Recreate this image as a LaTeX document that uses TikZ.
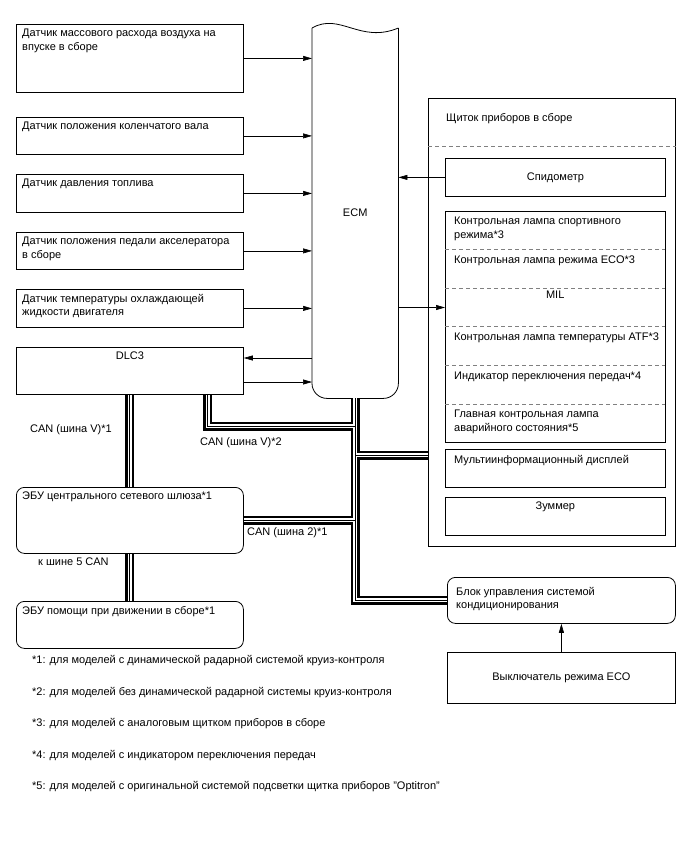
\documentclass[tikz,border=0pt]{standalone}
\usepackage{fontspec}
\setmainfont{Liberation Sans}
\usetikzlibrary{arrows.meta,positioning,calc}

\begin{document}
\begin{tikzpicture}[x=1pt,y=-1pt,font=\fontsize{11}{13.5}\selectfont,
 box/.style={draw,line width=0.8pt,anchor=north west,inner sep=0pt,minimum width=227pt},
 rbox/.style={box,rounded corners=8pt},
 lbl/.style={anchor=north west,inner sep=0pt,align=left},
 tl/.style={label={[lbl,xshift=6pt,yshift=-5pt]north west:#1}},
 ltl/.style={label={[lbl,xshift=9pt,yshift=-6pt]north west:#1}},
 tc/.style={label={[anchor=north,inner sep=0pt,yshift=-5pt]north:#1}},
 lamp/.style={minimum width=220pt,minimum height=38.2pt,inner sep=0pt},
 note/.style={anchor=west,inner sep=0pt},
 arr/.style={-{Triangle[length=9pt,width=5pt]},line width=0.6pt},
 sep/.style={line width=0.8pt,gray,dash pattern=on 4pt off 3pt}]
\path[use as bounding box,fill=white] (0,0) rectangle (688,852);

% sensors and left-hand units
\node[box,minimum height=68pt,tl={Датчик массового расхода воздуха на\\впуске в сборе}] (maf) at (16,24) {};
\node[box,minimum height=37pt,tl={Датчик положения коленчатого вала}] (ckp) at (16,117) {};
\node[box,minimum height=38pt,tl={Датчик давления топлива}] (fps) at (16,174) {};
\node[box,minimum height=37pt,tl={Датчик положения педали акселератора\\в сборе}] (app) at (16,232) {};
\node[box,minimum height=38pt,tl={Датчик температуры охлаждающей\\жидкости двигателя}] (ect) at (16,289) {};
\node[box,minimum height=47pt,tc=DLC3] (dlc) at (16,347) {};
\node[rbox,minimum height=66pt,tl={ЭБУ центрального сетевого шлюза*1}] (cgw) at (16,487) {};
\node[rbox,minimum height=47pt,tl={ЭБУ помощи при движении в сборе*1}] (das) at (16,601) {};

% ECM
\node[minimum width=86pt,minimum height=370pt,anchor=north west,inner sep=0pt] (ecm) at (312,28) {ECM};
\draw[line width=0.8pt] (ecm.north west) .. controls (340,12) and (360,44) .. (ecm.north east);
\draw[line width=0.8pt,rounded corners=15pt] (ecm.north east) -- (ecm.south east) -- (ecm.south west) -- (ecm.north west);

% combination meter
\node[box,minimum width=247pt,minimum height=448pt,label={[lbl,xshift=18pt,yshift=-15pt]north west:Щиток приборов в сборе}] (ipc) at (428,98) {};
\draw[sep] (ipc.west |- 0,146) -- (ipc.east |- 0,146);
\node[box,minimum width=220pt,minimum height=38pt] (spd) at (445,158) {Спидометр};
\node[lamp,anchor=north west,ltl={Контрольная лампа спортивного\\режима*3}] (spt) at (445,211) {};
\node[lamp,below=0pt of spt,ltl={Контрольная лампа режима ECO*3}] (eco) {};
\node[lamp,below=0pt of eco,label={[anchor=north,inner sep=0pt,yshift=-3pt]north:MIL}] (mil) {};
\node[lamp,below=0pt of mil,ltl={Контрольная лампа температуры ATF*3}] (atf) {};
\node[lamp,below=0pt of atf,ltl={Индикатор переключения передач*4}] (gsi) {};
\node[lamp,below=0pt of gsi,ltl={Главная контрольная лампа\\аварийного состояния*5}] (mcl) {};
\draw[line width=0.8pt] (spt.north west) rectangle (mcl.south east);
\foreach \n in {spt,eco,mil,atf,gsi} \draw[sep] (\n.south west) -- (\n.south east);
\node[box,minimum width=220pt,minimum height=38pt,ltl={Мультиинформационный дисплей}] (mid) at (445,449) {};
\node[box,minimum width=220pt,minimum height=38pt,tc=Зуммер] (buz) at (445,497) {};

% air conditioning
\node[rbox,minimum width=228pt,minimum height=46pt,label={[lbl,xshift=9pt,yshift=-10pt]north west:{Блок управления системой\\кондиционирования}}] (acc) at (447,577) {};
\node[box,minimum width=228pt,minimum height=51pt] (esw) at (447,652) {Выключатель режима ECO};

% signals
\foreach \s in {maf,ckp,fps,app,ect} \draw[arr] (\s.east) -- (\s.east -| ecm.west);
\draw[arr] (ecm.west |- 0,358) -- (dlc.east |- 0,358);
\draw[arr] (dlc.east |- 0,382) -- (ecm.west |- 0,382);
\draw[arr] (spd.west) -- (spd.west -| ecm.east);
\draw[arr] (ecm.east |- mil.west) -- (mil.west);
\draw[arr] (esw) -- (acc);

% CAN buses
\foreach \w/\c in {9pt/black,4pt/white,1pt/black}{
 \draw[line width=\w,\c] (dlc.south) -- (cgw.north) (cgw.south) -- (das.north);
 \draw[line width=\w,\c] ([xshift=78pt]dlc.south) |- (ecm.south |- 0,426);
 \draw[line width=\w,\c] (ecm.south) |- (acc.west);
 \draw[line width=\w,\c] (cgw.east) -- (cgw.east -| ecm.south);
 \draw[line width=\w,\c] (ecm.south |- 0,455) -- (ipc.west |- 0,455);
}
\node[note] (canv1) at (30,430) {CAN (шина V)*1};
\node[note] (canv2) at (200,443) {CAN (шина V)*2};
\node[note] (can2) at (247,533) {CAN (шина 2)*1};
\node[note] (can5) at (38,562) {к шине 5 CAN};

% footnotes
\foreach \t [count=\i] in {{*1: для моделей с динамической радарной системой круиз-контроля},
 {*2: для моделей без динамической радарной системы круиз-контроля},
 {*3: для моделей с аналоговым щитком приборов в сборе},
 {*4: для моделей с индикатором переключения передач},
 {*5: для моделей с оригинальной системой подсветки щитка приборов "Optitron"}}
 \node[note] (fn\i) at (32,{629.5+31.5*\i}) {\t};
\end{tikzpicture}
\end{document}
